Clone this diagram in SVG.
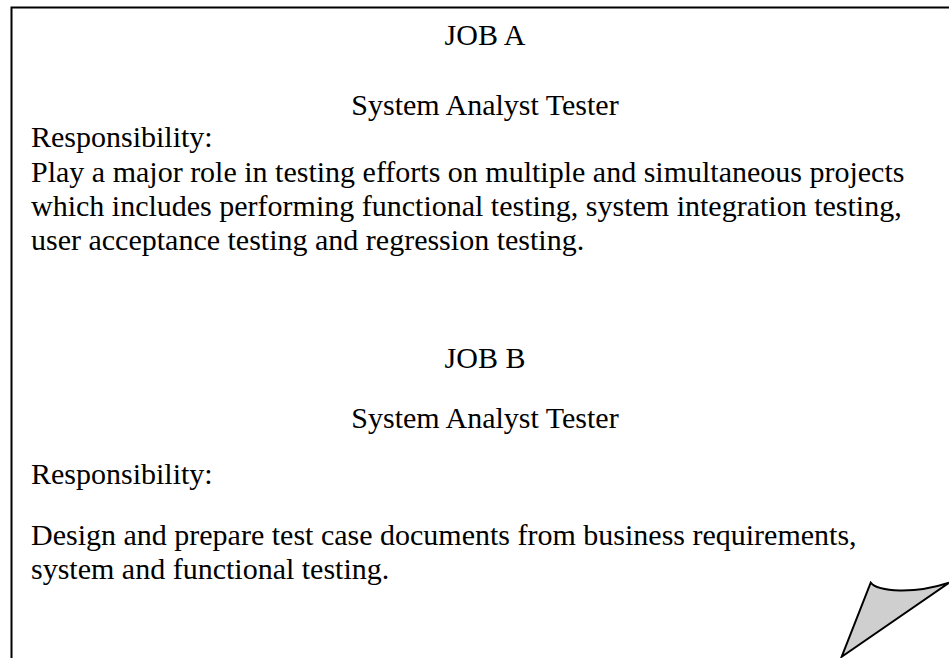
<svg xmlns="http://www.w3.org/2000/svg" width="949" height="658" viewBox="0 0 949 658">
  <style>
    .t { font-family: "Liberation Serif", "Times New Roman", serif; font-size: 30px; fill: #000; }
    .c { text-anchor: middle; }
    .edge { fill: none; stroke: #000; stroke-width: 2; }
  </style>
  <rect width="949" height="658" fill="#fff"/>
  <!-- page outline: top and left edges only, page runs off to the right and bottom -->
  <g id="page">
    <path class="edge" d="M11.5,658 L11.5,7.5 L949,7.5"/>
  </g>
  <g id="job-a">
    <text class="t c" x="485" y="45">JOB A</text>
    <text class="t c" x="485" y="115">System Analyst Tester</text>
    <text class="t" x="31" y="147">Responsibility:</text>
    <text class="t" x="31" y="182">Play a major role in testing efforts on multiple and simultaneous projects</text>
    <text class="t" x="31" y="216">which includes performing functional testing, system integration testing,</text>
    <text class="t" x="31" y="250">user acceptance testing and regression testing.</text>
  </g>
  <g id="job-b">
    <text class="t c" x="485" y="368">JOB B</text>
    <text class="t c" x="485" y="428">System Analyst Tester</text>
    <text class="t" x="31" y="484">Responsibility:</text>
    <text class="t" x="31" y="545">Design and prepare test case documents from business requirements,</text>
    <text class="t" x="31" y="579">system and functional testing.</text>
  </g>
  <!-- folded corner -->
  <g id="page-curl">
    <path d="M870.7,582.7 C878,592 915,594 949,582.7 L841.7,656.7 Z" fill="#cfcfcf" stroke="#000" stroke-width="2" stroke-linejoin="miter"/>
  </g>
</svg>
